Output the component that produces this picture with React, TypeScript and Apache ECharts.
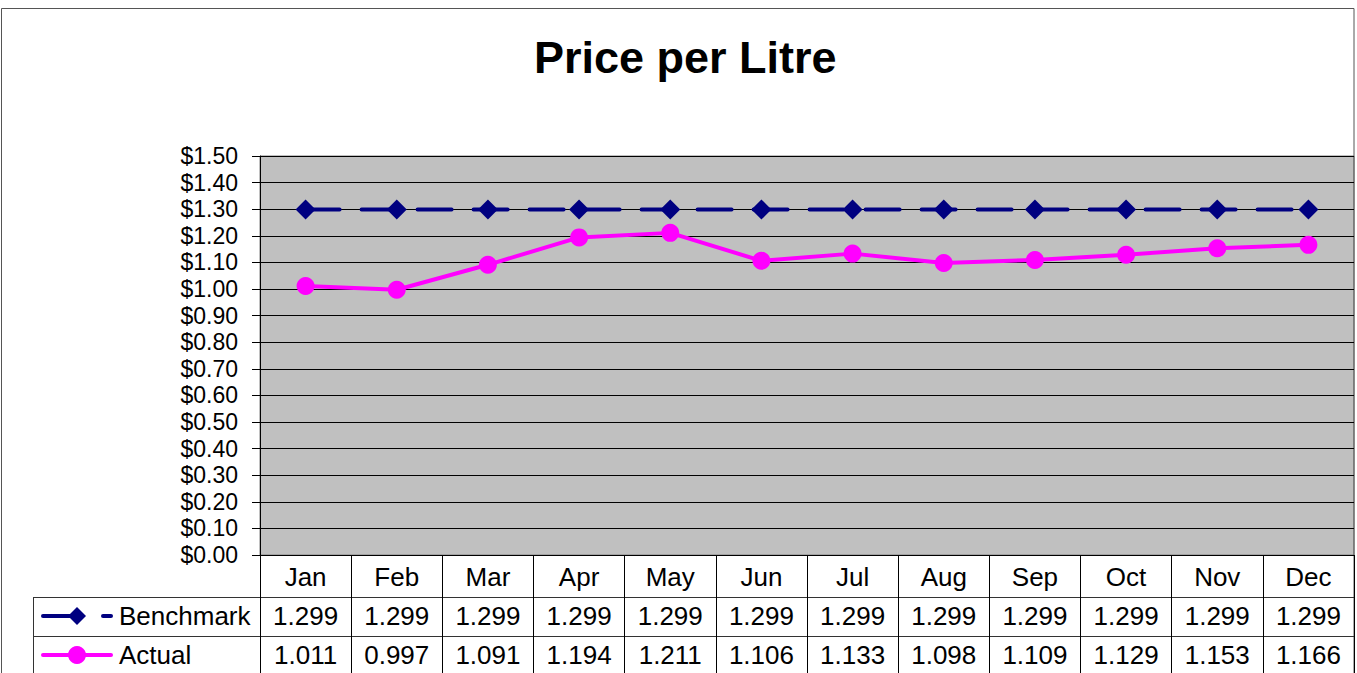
import React, { useEffect, useRef } from "react";
import * as echarts from "echarts";

const months = ["Jan", "Feb", "Mar", "Apr", "May", "Jun", "Jul", "Aug", "Sep", "Oct", "Nov", "Dec"];
const benchmark = [1.299, 1.299, 1.299, 1.299, 1.299, 1.299, 1.299, 1.299, 1.299, 1.299, 1.299, 1.299];
const actual = [1.011, 0.997, 1.091, 1.194, 1.211, 1.106, 1.133, 1.098, 1.109, 1.129, 1.153, 1.166];
const title = "Price per Litre";
const seriesNames = ["Benchmark", "Actual"];

const W = 1357;
const H = 673;
const GL = 260;
const GT = 156;
const GR = 3;
const GB = 118;
const FONT = "Liberation Sans, Arial, sans-serif";
const FS = 26;

export default function App() {
  const ref = useRef<HTMLDivElement>(null);
  useEffect(() => {
    if (!ref.current) return;
    const chart = echarts.init(ref.current, null, { renderer: "svg" });
    const plotBottom = H - GB;
    const plotRight = W - GR;
    const row1 = plotBottom + 42;
    const row2 = plotBottom + 81;
    const fmt = (v: number) => v.toFixed(3);
    const lbl = { fontFamily: FONT, fontSize: FS, color: "#000", margin: 9, interval: 0 };
    chart.setOption({
      animation: false,
      backgroundColor: "#ffffff",
      title: {
        text: title,
        left: 529,
        top: 30,
        textStyle: { fontFamily: FONT, fontSize: 45, fontWeight: "bold", color: "#000" },
      },
      grid: {
        left: GL,
        top: GT,
        right: GR,
        bottom: GB,
        show: true,
        backgroundColor: "#C0C0C0",
        borderColor: "#808080",
        borderWidth: 1,
      },
      xAxis: [
        {
          type: "category",
          data: months,
          boundaryGap: true,
          axisLine: { lineStyle: { color: "#000", width: 1 } },
          axisTick: { show: true, length: GB, lineStyle: { color: "#000", width: 1 } },
          axisLabel: lbl,
          splitLine: { show: false },
        },
        {
          type: "category",
          data: benchmark.map(fmt),
          position: "bottom",
          offset: 39,
          axisLine: { show: false },
          axisTick: { show: false },
          axisLabel: lbl,
        },
        {
          type: "category",
          data: actual.map(fmt),
          position: "bottom",
          offset: 78,
          axisLine: { show: false },
          axisTick: { show: false },
          axisLabel: lbl,
        },
      ],
      yAxis: {
        type: "value",
        min: 0,
        max: 1.5,
        interval: 0.1,
        axisLine: { show: true, lineStyle: { color: "#000", width: 1 } },
        axisTick: { show: true, length: 8, lineStyle: { color: "#000" } },
        axisLabel: {
          fontFamily: FONT,
          fontSize: 23,
          lineHeight: 22,
          color: "#000",
          margin: 22,
          formatter: (v: number) => "$" + v.toFixed(2),
        },
        splitLine: { show: true, lineStyle: { color: "#000", width: 1 } },
      },
      series: [
        {
          name: seriesNames[0],
          type: "line",
          data: benchmark,
          xAxisIndex: 0,
          symbol: "diamond",
          symbolSize: [20, 20],
          lineStyle: { color: "#000080", width: 4, type: [34, 22], cap: "round" },
          itemStyle: { color: "#000080" },
          z: 3,
        },
        {
          name: seriesNames[1],
          type: "line",
          data: actual,
          xAxisIndex: 0,
          symbol: "circle",
          symbolSize: 18,
          lineStyle: { color: "#FF00FF", width: 4 },
          itemStyle: { color: "#FF00FF" },
          z: 4,
        },
      ],
      graphic: [
        {
          type: "rect",
          shape: { x: 1.5, y: 8.5, width: plotRight - 1.5, height: H },
          style: { fill: "none", stroke: "#555", lineWidth: 1 },
          silent: true,
        },
        {
          type: "line",
          shape: { x1: 33, y1: plotBottom + 42.5, x2: plotRight, y2: plotBottom + 42.5 },
          style: { stroke: "#333", lineWidth: 1 },
        },
        {
          type: "line",
          shape: { x1: 33, y1: plotBottom + 81.5, x2: plotRight, y2: plotBottom + 81.5 },
          style: { stroke: "#333", lineWidth: 1 },
        },
        {
          type: "line",
          shape: { x1: 33.5, y1: plotBottom + 42, x2: 33.5, y2: H },
          style: { stroke: "#333", lineWidth: 1 },
        },
        {
          type: "line",
          shape: { x1: 43, y1: row1 + 19, x2: 77, y2: row1 + 19 },
          style: { stroke: "#000080", lineWidth: 4, lineCap: "round" },
        },
        {
          type: "polygon",
          shape: { points: [[77, row1 + 10], [86, row1 + 19], [77, row1 + 28], [68, row1 + 19]] },
          style: { fill: "#000080" },
        },
        {
          type: "line",
          shape: { x1: 103, y1: row1 + 19, x2: 111, y2: row1 + 19 },
          style: { stroke: "#000080", lineWidth: 4, lineCap: "round" },
        },
        {
          type: "text",
          x: 119,
          y: row1 + 19,
          style: { text: seriesNames[0], font: FS + "px " + FONT, fill: "#000", textVerticalAlign: "middle", verticalAlign: "middle" },
        },
        {
          type: "line",
          shape: { x1: 43, y1: row2 + 19, x2: 111, y2: row2 + 19 },
          style: { stroke: "#FF00FF", lineWidth: 4, lineCap: "round" },
        },
        {
          type: "circle",
          shape: { cx: 77, cy: row2 + 19, r: 9 },
          style: { fill: "#FF00FF" },
        },
        {
          type: "text",
          x: 119,
          y: row2 + 19,
          style: { text: seriesNames[1], font: FS + "px " + FONT, fill: "#000", textVerticalAlign: "middle", verticalAlign: "middle" },
        },
      ],
    });
    return () => chart.dispose();
  }, []);
  return (
    <div
      ref={ref}
      style={{ position: "absolute", left: 0, top: 0, width: W, height: H }}
    />
  );
}
